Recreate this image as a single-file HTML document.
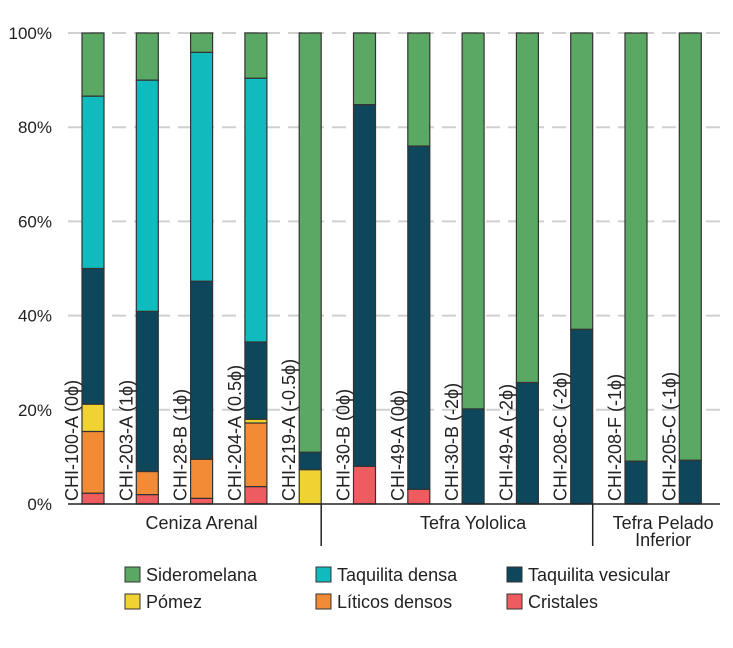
<!DOCTYPE html>
<html><head><meta charset="utf-8"><style>
body{margin:0;background:#fff;font-family:"Liberation Sans",sans-serif}
svg text{font-family:"Liberation Sans",sans-serif;fill:#222}
</style></head><body>
<svg id="c" width="733" height="643"></svg>
<script>
const samples=["CHI-100-A (0ϕ)","CHI-203-A (1ϕ)","CHI-28-B (1ϕ)","CHI-204-A (0.5ϕ)","CHI-219-A (-0.5ϕ)","CHI-30-B (0ϕ)","CHI-49-A (0ϕ)","CHI-30-B (-2ϕ)","CHI-49-A (-2ϕ)","CHI-208-C (-2ϕ)","CHI-208-F (-1ϕ)","CHI-205-C (-1ϕ)"];
const cristales=[2.3,2.0,1.2,3.7,0,8.0,3.1,0,0,0,0,0];
const liticos=[13.1,4.9,8.3,13.5,0,0,0,0,0,0,0,0];
const pomez=[5.8,0,0,0.8,7.3,0,0,0,0,0,0,0];
const vesicular=[28.8,34.0,37.8,16.4,3.7,76.8,72.9,20.2,25.8,37.1,9.1,9.3];
const densa=[36.6,49.1,48.6,56.0,0,0,0,0,0,0,0,0];
const sideromelana=[13.4,10.0,4.1,9.6,89.0,15.2,24.0,79.8,74.2,62.9,90.9,90.7];
const yTicks=[0,20,40,60,80,100];
const groups=[{name:["Ceniza Arenal"],from:0,to:4},{name:["Tefra Yololica"],from:5,to:9},{name:["Tefra Pelado","Inferior"],from:10,to:11}];
const series=[["Cristales",cristales,"#ee5c5f"],["Líticos densos",liticos,"#f28b36"],["Pómez",pomez,"#f0d232"],["Taquilita vesicular",vesicular,"#0e465c"],["Taquilita densa",densa,"#10bbbd"],["Sideromelana",sideromelana,"#5aa864"]];
const NS="http://www.w3.org/2000/svg",svg=document.getElementById('c');
const X0=68,X1=720,Y0=504,Y1=33,step=54.3,first=82,bw=22;
const y=v=>Y0-(v/100)*(Y0-Y1);
const x=i=>first+i*step;
function mk(t,a,p){const e=document.createElementNS(NS,t);for(const k in a)e.setAttribute(k,a[k]);(p||svg).appendChild(e);return e;}
yTicks.forEach(t=>{
 if(t>0){const g=mk('line',{x1:X0,x2:X1,y1:y(t),y2:y(t),stroke:'#d0d0d0','stroke-width':2,'stroke-dasharray':'14,8'});
 
 }
 const l=mk('text',{x:52,y:y(t)+6,'text-anchor':'end','font-size':17});l.textContent=t+'%';
 
 
});
samples.forEach((s,i)=>{
 let acc=0;
 series.forEach(([n,vals,col])=>{
  const v=vals[i];if(v<=0)return;
  const r=mk('rect',{x:x(i),y:y(acc+v),width:bw,height:y(acc)-y(acc+v),fill:col,stroke:'#333','stroke-width':1.2});
  
  
  acc+=v;
 });
 const tx=x(i)-4,ty=Y0-3;
 const t=mk('text',{x:tx,y:ty,transform:`rotate(-90 ${tx} ${ty})`,'font-size':18});t.textContent=s;
 
 
});
const ax=mk('line',{x1:X0,x2:X1,y1:Y0,y2:Y0,stroke:'#222','stroke-width':1.5});


groups.forEach((g,gi)=>{
 const cx=(x(g.from)+x(g.to)+bw)/2;
 g.name.forEach((ln,k)=>{const t=mk('text',{x:cx,y:529+k*17,'text-anchor':'middle','font-size':18});t.textContent=ln;
 
 });
 if(gi<groups.length-1){const d=mk('line',{x1:x(g.to)+bw,x2:x(g.to)+bw,y1:Y0,y2:546,stroke:'#222','stroke-width':1.5});
 
 }
});
const legendOrder=[5,4,3,2,1,0];
legendOrder.forEach((si,k)=>{
 const [n,,col]=series[si];const lx=125+(k%3)*191,ly=575+Math.floor(k/3)*27;
 const r=mk('rect',{x:lx,y:ly-8,width:15,height:15,fill:col,stroke:'#333','stroke-width':1});
 
 
 const t=mk('text',{x:lx+21,y:ly+6,'font-size':18});t.textContent=n;
 
 
});
</script>
</body></html>
